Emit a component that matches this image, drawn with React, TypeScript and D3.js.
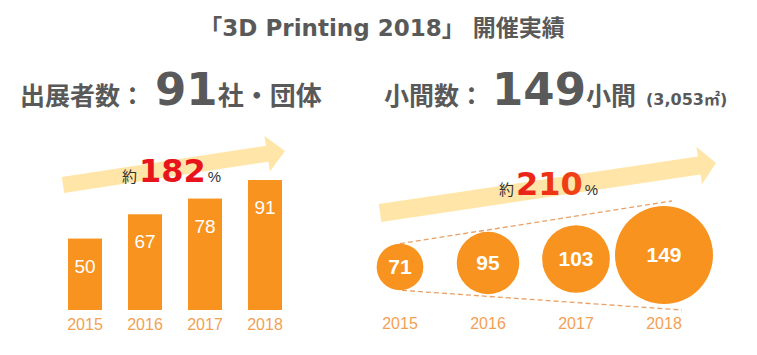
import { useEffect, useRef } from "react";
import * as d3 from "d3";

// chart values
const years = ["2015", "2016", "2017", "2018"];
const exhibitors = [50, 67, 78, 91];
const booths = [71, 95, 103, 149];

const title = "「3D Printing 2018」 開催実績";
const exhibitorHead = ["出展者数：", "91", "社・団体"];
const boothHead = ["小間数：", "149", "小間", "(3,053㎡)"];
const growthLeft = ["約", "182", "%"];
const growthRight = ["約", "210", "%"];

const W = 757;
const H = 355;
const ORANGE = "#F7931E";
const YEAR_COL = "#F2A154";
const ARROW_COL = "#FFE6A8";
const GRAY = "#595959";
const LATIN = "'DejaVu Sans', 'Noto Sans CJK JP', sans-serif";
const CJK = "'Noto Sans CJK JP', sans-serif";
const ARIAL = "'Liberation Sans', Arial, sans-serif";

// a fat arrow polygon from tail centre to tip
const arrowPath = (x0, y0, x1, y1, shaft, headW, headL) => {
  const len = Math.hypot(x1 - x0, y1 - y0);
  const ux = (x1 - x0) / len;
  const uy = (y1 - y0) / len;
  const nx = -uy;
  const ny = ux;
  const bx = x1 - ux * headL;
  const by = y1 - uy * headL;
  const pts = [
    [x0 + nx * shaft / 2, y0 + ny * shaft / 2],
    [bx + nx * shaft / 2, by + ny * shaft / 2],
    [bx + nx * headW / 2, by + ny * headW / 2],
    [x1, y1],
    [bx - nx * headW / 2, by - ny * headW / 2],
    [bx - nx * shaft / 2, by - ny * shaft / 2],
    [x0 - nx * shaft / 2, y0 - ny * shaft / 2],
  ];
  return d3.line()(pts) + "Z";
};

const App = () => {
  const svgRef = useRef(null);

  useEffect(() => {
    const svg = d3.select(svgRef.current);
    svg.selectAll("*").remove();

    const defs = svg.append("defs");
    const grad = defs
      .append("linearGradient")
      .attr("id", "redOrange")
      .attr("x1", "0%")
      .attr("x2", "100%");
    grad.append("stop").attr("offset", "0%").attr("stop-color", "#E8141B");
    grad.append("stop").attr("offset", "100%").attr("stop-color", "#F25112");

    // title
    svg
      .append("text")
      .attr("x", 382)
      .attr("y", 36)
      .attr("text-anchor", "middle")
      .attr("font-family", LATIN)
      .attr("font-weight", "bold")
      .attr("font-size", 23)
      .attr("fill", GRAY)
      .text(title);

    // headline numbers
    const h1 = svg
      .append("text")
      .attr("x", 20)
      .attr("y", 105)
      .attr("fill", GRAY)
      .attr("font-weight", "bold");
    h1.append("tspan").attr("font-family", CJK).attr("font-size", 25).text(exhibitorHead[0]);
    h1.append("tspan").attr("dx", 10).attr("font-family", LATIN).attr("font-size", 45).text(exhibitorHead[1]);
    h1.append("tspan").attr("font-family", CJK).attr("font-size", 26).text(exhibitorHead[2]);

    const h2 = svg
      .append("text")
      .attr("x", 384)
      .attr("y", 105)
      .attr("fill", GRAY)
      .attr("font-weight", "bold");
    h2.append("tspan").attr("font-family", CJK).attr("font-size", 25).text(boothHead[0]);
    h2.append("tspan").attr("dx", 8).attr("font-family", LATIN).attr("font-size", 45).text(boothHead[1]);
    h2.append("tspan").attr("font-family", CJK).attr("font-size", 25).text(boothHead[2]);
    h2.append("tspan").attr("dx", 10).attr("font-family", LATIN).attr("font-size", 16).text(boothHead[3]);

    // growth arrows
    svg.append("path").attr("d", arrowPath(63, 185, 285, 151, 16, 36, 18)).attr("fill", ARROW_COL);
    svg.append("path").attr("d", arrowPath(380, 213, 716, 163, 18, 38, 17)).attr("fill", ARROW_COL);

    const g1 = svg.append("text").attr("x", 122).attr("y", 182).attr("fill", "#333");
    g1.append("tspan").attr("font-family", CJK).attr("font-size", 15).text(growthLeft[0]);
    g1.append("tspan").attr("dx", 2).attr("font-family", LATIN).attr("font-weight", "bold").attr("font-size", 32).attr("fill", "#E8141B").text(growthLeft[1]);
    g1.append("tspan").attr("dx", 2).attr("font-family", ARIAL).attr("font-size", 15).text(growthLeft[2]);

    const g2 = svg.append("text").attr("x", 499).attr("y", 195).attr("fill", "#333");
    g2.append("tspan").attr("font-family", CJK).attr("font-size", 15).text(growthRight[0]);
    g2.append("tspan").attr("dx", 2).attr("font-family", LATIN).attr("font-weight", "bold").attr("font-size", 32).attr("fill", "url(#redOrange)").text(growthRight[1]);
    g2.append("tspan").attr("dx", 2).attr("font-family", ARIAL).attr("font-size", 15).text(growthRight[2]);

    // left: bar chart of exhibitors
    const xScale = d3.scaleBand().domain(years).range([68, 282]).paddingInner(0.433).paddingOuter(0);
    const yScale = d3.scaleLinear().domain([0, 91]).range([310, 180]);

    const bars = svg.append("g");
    bars
      .selectAll("rect")
      .data(exhibitors)
      .join("rect")
      .attr("x", (d, i) => xScale(years[i]))
      .attr("y", (d) => yScale(d))
      .attr("width", xScale.bandwidth())
      .attr("height", (d) => yScale(0) - yScale(d))
      .attr("fill", ORANGE);
    bars
      .selectAll(".val")
      .data(exhibitors)
      .join("text")
      .attr("class", "val")
      .attr("x", (d, i) => xScale(years[i]) + xScale.bandwidth() / 2)
      .attr("y", (d) => yScale(d) + 34)
      .attr("text-anchor", "middle")
      .attr("font-family", ARIAL)
      .attr("font-size", 19)
      .attr("fill", "#fff")
      .text((d) => d);
    bars
      .selectAll(".yr")
      .data(years)
      .join("text")
      .attr("class", "yr")
      .attr("x", (d) => xScale(d) + xScale.bandwidth() / 2)
      .attr("y", 330)
      .attr("text-anchor", "middle")
      .attr("font-family", ARIAL)
      .attr("font-size", 16)
      .attr("fill", YEAR_COL)
      .text((d) => d);

    // right: bubbles of booths
    const cx = d3.scalePoint().domain(years).range([400, 664]);
    const cy = d3.scaleLinear().domain([400, 664]).range([267, 255]);
    const rScale = d3.scaleLinear().domain([0, 149]).range([0, 49]);

    const first = { x: cx(years[0]), y: cy(cx(years[0])), r: rScale(booths[0]) };
    const last = { x: cx(years[3]), y: cy(cx(years[3])), r: rScale(booths[3]) };

    const dash = svg
      .append("g")
      .attr("stroke", "#E8A066")
      .attr("stroke-width", 1.3)
      .attr("stroke-dasharray", "5,3")
      .attr("fill", "none");
    dash.append("line").attr("x1", first.x).attr("y1", first.y - first.r).attr("x2", last.x + 8).attr("y2", last.y - last.r - 5);
    dash.append("line").attr("x1", first.x + 2).attr("y1", first.y + first.r).attr("x2", last.x + 18).attr("y2", last.y + last.r + 6);

    const bub = svg.append("g");
    bub
      .selectAll("circle")
      .data(booths)
      .join("circle")
      .attr("cx", (d, i) => cx(years[i]))
      .attr("cy", (d, i) => cy(cx(years[i])))
      .attr("r", (d) => rScale(d))
      .attr("fill", ORANGE);
    bub
      .selectAll(".val")
      .data(booths)
      .join("text")
      .attr("class", "val")
      .attr("x", (d, i) => cx(years[i]))
      .attr("y", (d, i) => cy(cx(years[i])) + 7)
      .attr("text-anchor", "middle")
      .attr("font-family", ARIAL)
      .attr("font-weight", "bold")
      .attr("font-size", 21)
      .attr("fill", "#fff")
      .text((d) => d);
    bub
      .selectAll(".yr")
      .data(years)
      .join("text")
      .attr("class", "yr")
      .attr("x", (d) => cx(d))
      .attr("y", 329)
      .attr("text-anchor", "middle")
      .attr("font-family", ARIAL)
      .attr("font-size", 16)
      .attr("fill", YEAR_COL)
      .text((d) => d);
  }, []);

  return (
    <svg
      ref={svgRef}
      width={W}
      height={H}
      style={{ position: "absolute", left: 0, top: 0, background: "#fff" }}
    ></svg>
  );
};

export default App;
